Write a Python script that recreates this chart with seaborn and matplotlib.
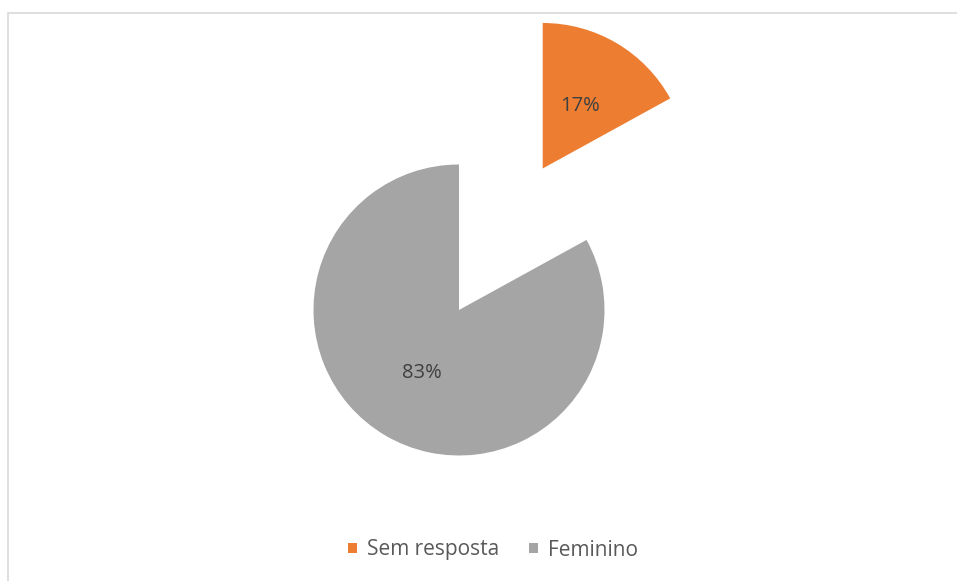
import matplotlib
matplotlib.use("Agg")
import matplotlib.pyplot as plt
import seaborn as sns
from matplotlib.patches import Rectangle

categories = ["Sem resposta", "Feminino"]
shares = [17, 83]
colors = ["#ED7D31", "#A5A5A5"]

sns.set_theme(style="white")
plt.rcParams["font.family"] = ["Open Sans", "DejaVu Sans"]

W, H = 957, 581
fig = plt.figure(figsize=(W / 100, H / 100), dpi=100)
ax = fig.add_axes([0, 0, 1, 1])

# chart frame (light border, cut at right/bottom as in the reference)
fig.patches.append(Rectangle((8 / W, -0.01), 1.0, (H - 13) / H + 0.01,
                             transform=fig.transFigure, fill=False,
                             edgecolor="#D9D9D9", lw=1.2))

wedges, texts, autotexts = ax.pie(
    shares, colors=colors, startangle=90, counterclock=False,
    explode=[1.13, 0], autopct="%1.0f%%", pctdistance=0.5,
    textprops={"color": "#404040", "fontsize": 14.5},
    wedgeprops={"linewidth": 0})

# scale: radius 1 -> 146 px, center at (459, 310 from top)
r = 145.5
cx, cy = 459.0, H - 310.0
ax.set_xlim(-cx / r, (W - cx) / r)
ax.set_ylim(-cy / r, (H - cy) / r)
ax.set_aspect("auto")
ax.axis("off")

fig.legend(wedges, categories, loc="center", bbox_to_anchor=(493 / W, 1 - 550 / H),
           ncol=2, frameon=False, handlelength=0.45, handleheight=0.3,
           handletextpad=0.5, columnspacing=1.4, fontsize=15,
           labelcolor="#595959")

fig.savefig("out.png", dpi=100)
